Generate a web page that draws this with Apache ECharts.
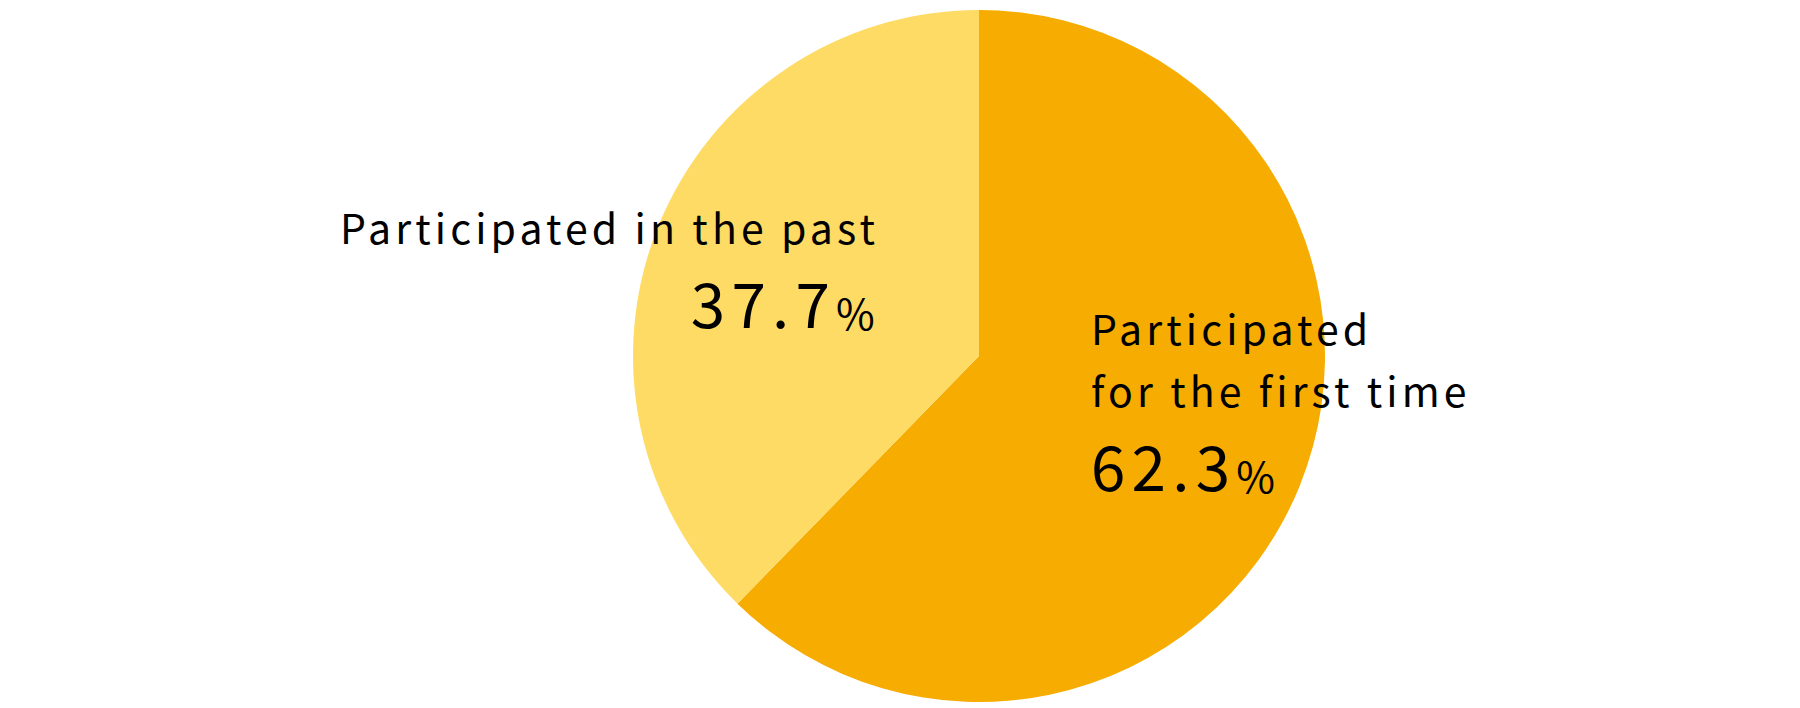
<!DOCTYPE html>
<html>
<head>
<meta charset="utf-8">
<script src="https://cdn.jsdelivr.net/npm/echarts@6/dist/echarts.min.js"></script>
<style>
  html, body { margin: 0; padding: 0; background: #fff; }
  #chart { width: 1800px; height: 708px; }
  #chart svg text { letter-spacing: 0.1em; }
</style>
</head>
<body>
<div id="chart"></div>
<script>
// ---- data ----
const categories = ['Participated for the first time', 'Participated in the past'];
const labelLines = [['Participated', 'for the first time'], ['Participated in the past']];
const values = [62.3, 37.7];
const colors = ['#F6AC00', '#FEDB64'];

const FONT = '"Noto Sans CJK JP", "Noto Sans", sans-serif';
const LS = 0.1;

if (echarts.setPlatformAPI) {
  const mctx = document.createElement('canvas').getContext('2d');
  echarts.setPlatformAPI({
    measureText: function (text, font) {
      mctx.font = font || '12px sans-serif';
      const mm = (font || '').match(/(\d+(?:\.\d+)?)px/);
      const fs = mm ? parseFloat(mm[1]) : 12;
      const tm = mctx.measureText(text);
      return {
        width: tm.width + LS * fs * Array.from(text).length,
        actualBoundingBoxAscent: tm.actualBoundingBoxAscent,
        actualBoundingBoxDescent: tm.actualBoundingBoxDescent,
        actualBoundingBoxLeft: tm.actualBoundingBoxLeft,
        actualBoundingBoxRight: tm.actualBoundingBoxRight,
        fontBoundingBoxAscent: tm.fontBoundingBoxAscent,
        fontBoundingBoxDescent: tm.fontBoundingBoxDescent
      };
    }
  });
}

const chart = echarts.init(document.getElementById('chart'), null, { renderer: 'svg' });

const data = categories.map(function (c, i) {
  return { name: c, value: values[i], itemStyle: { color: colors[i] } };
});

chart.setOption({
  animation: false,
  series: [{
    type: 'pie',
    center: [979, 356],
    radius: [0, 346],
    startAngle: 90,
    clockwise: true,
    avoidLabelOverlap: false,
    silent: true,
    emphasis: { disabled: true },
    itemStyle: { borderWidth: 0 },
    data: data,
    labelLine: { show: false },
    label: {
      show: true,
      position: 'outside',
      color: '#000',
      fontFamily: FONT,
      formatter: function (p) {
        const lines = labelLines[p.dataIndex].map(function (t) { return '{n|' + t + '}'; });
        lines.push('{v|' + p.value.toFixed(1) + '}{p|%}');
        return lines.join('\n');
      },
      rich: {
        n: { fontSize: 41, lineHeight: 62, fontFamily: FONT, color: '#000' },
        v: { fontSize: 62, lineHeight: 78, verticalAlign: 'bottom', fontFamily: FONT, color: '#000' },
        p: { fontSize: 42, lineHeight: 64, verticalAlign: 'bottom', fontFamily: FONT, color: '#000' }
      }
    },
    labelLayout: function (params) {
      if (params.dataIndex === 0) {
        return { x: 1091, y: 296, align: 'left', verticalAlign: 'top' };
      }
      return { x: 879, y: 195, align: 'right', verticalAlign: 'top' };
    }
  }]
});
</script>
</body>
</html>
